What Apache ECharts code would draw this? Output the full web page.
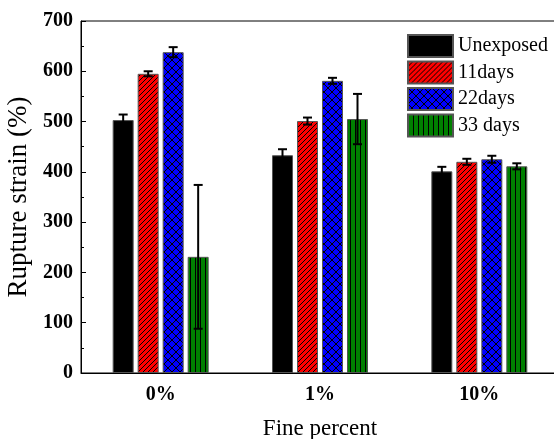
<!DOCTYPE html>
<html>
<head>
<meta charset="utf-8">
<script src="https://cdn.jsdelivr.net/npm/echarts@6/dist/echarts.min.js"></script>
<style>html,body{margin:0;padding:0;background:#fff;}#c{width:554px;height:439px;}</style>
</head>
<body>
<div id="c"></div>
<script>
var categories = ['0%', '1%', '10%'];
var seriesNames = ['Unexposed', '11days', '22days', '33 days'];
var unexposed = [503, 433, 401];
var unexposedErr = [11, 12, 9];
var days11 = [595, 501, 420];
var days11Err = [5, 7, 6];
var days22 = [638, 581, 425];
var days22Err = [10, 6, 7];
var days33 = [231, 505, 411];
var days33Err = [143, 50, 6];
var yTicks = [0, 100, 200, 300, 400, 500, 600, 700];

var values = [unexposed, days11, days22, days33];
var errors = [unexposedErr, days11Err, days22Err, days33Err];

function makePattern(bg, type, p) {
  var c = document.createElement('canvas');
  c.width = p; c.height = p;
  var g = c.getContext('2d');
  g.fillStyle = bg; g.fillRect(0, 0, p, p);
  if (type === 'solid') return c;
  g.strokeStyle = '#000'; g.lineWidth = 1;
  g.beginPath();
  if (type === 'diag' || type === 'cross') {
    g.moveTo(-1, p + 1); g.lineTo(p + 1, -1);
    g.moveTo(-1, 1); g.lineTo(1, -1);
    g.moveTo(p - 1, p + 1); g.lineTo(p + 1, p - 1);
  }
  if (type === 'cross') {
    g.moveTo(-1, -1); g.lineTo(p + 1, p + 1);
    g.moveTo(p - 1, -1); g.lineTo(p + 1, 1);
    g.moveTo(-1, p - 1); g.lineTo(1, p + 1);
  }
  if (type === 'vert') {
    g.moveTo(0.5, 0); g.lineTo(0.5, p);
  }
  g.stroke();
  return c;
}
var fills = [
  '#000000',
  { image: makePattern('#ff0000', 'diag', 5), repeat: 'repeat' },
  { image: makePattern('#0000ff', 'cross', 8), repeat: 'repeat' },
  { image: makePattern('#008000', 'vert', 5), repeat: 'repeat' }
];

var BAR_W = 21, BAR_STEP = 25;
var series = [];
seriesNames.forEach(function (name, i) {
  series.push({
    name: name,
    type: 'bar',
    data: values[i],
    barWidth: BAR_W,
    barGap: ((BAR_STEP - BAR_W) / BAR_W * 100) + '%',
    itemStyle: { color: fills[i], borderColor: '#555', borderWidth: 1 },
    z: 2
  });
});
var errData = [];
values.forEach(function (arr, si) {
  arr.forEach(function (v, ci) {
    errData.push([ci, v - errors[si][ci], v + errors[si][ci], si]);
  });
});
series.push({
  type: 'custom',
  data: errData,
  z: 5,
  silent: true,
  renderItem: function (params, api) {
    var ci = api.value(0), si = api.value(3);
    var lo = api.coord([ci, api.value(1)]);
    var hi = api.coord([ci, api.value(2)]);
    var x = lo[0] + (si - 1.5) * BAR_STEP;
    var hw = 4.5;
    var st = { stroke: '#000', lineWidth: 2 };
    return {
      type: 'group',
      children: [
        { type: 'line', shape: { x1: x, y1: lo[1], x2: x, y2: hi[1] }, style: st },
        { type: 'line', shape: { x1: x - hw, y1: lo[1], x2: x + hw, y2: lo[1] }, style: st },
        { type: 'line', shape: { x1: x - hw, y1: hi[1], x2: x + hw, y2: hi[1] }, style: st }
      ]
    };
  }
});

var FONT = '"Liberation Serif", "Times New Roman", serif';
var chart = echarts.init(document.getElementById('c'));
chart.setOption({
  animation: false,
  backgroundColor: '#fff',
  textStyle: { fontFamily: FONT, color: '#000' },
  grid: { left: 81, top: 21, width: 478, height: 352, containLabel: false, outerBoundsMode: 'none', show: true, borderColor: '#000', borderWidth: 1, backgroundColor: 'transparent' },
  legend: {
    data: seriesNames,
    orient: 'vertical',
    left: 407, top: 34,
    padding: 0,
    itemWidth: 45, itemHeight: 22, itemGap: 2.5,
    icon: 'rect',
    textStyle: { fontFamily: FONT, fontSize: 20, color: '#000' }
  },
  xAxis: {
    type: 'category',
    data: categories,
    name: 'Fine percent',
    nameLocation: 'middle',
    nameGap: 44,
    nameTextStyle: { fontFamily: FONT, fontSize: 23, color: '#000' },
    axisLine: { lineStyle: { color: '#000', width: 1 } },
    axisTick: { inside: true, length: 4, lineStyle: { color: '#000' } },
    axisLabel: { fontFamily: FONT, fontSize: 20, fontWeight: 'bold', color: '#000', margin: 12 },
    splitLine: { show: false }
  },
  yAxis: {
    type: 'value',
    min: 0, max: 700, interval: 100,
    name: 'Rupture strain (%)',
    nameLocation: 'middle',
    nameGap: 45,
    nameTextStyle: { fontFamily: FONT, fontSize: 27, color: '#000' },
    axisLine: { show: true, lineStyle: { color: '#000', width: 1 } },
    axisTick: { show: true, inside: true, length: 5, lineStyle: { color: '#000' } },
    minorTick: { show: true, splitNumber: 2, length: 3, lineStyle: { color: '#000' } },
    axisLabel: {
      fontFamily: FONT, fontSize: 20, fontWeight: 'bold', color: '#000', margin: 8,
      formatter: function (v) { return yTicks.indexOf(v) >= 0 ? String(v) : ''; }
    },
    splitLine: { show: false }
  },
  series: series
});
</script>
</body>
</html>
